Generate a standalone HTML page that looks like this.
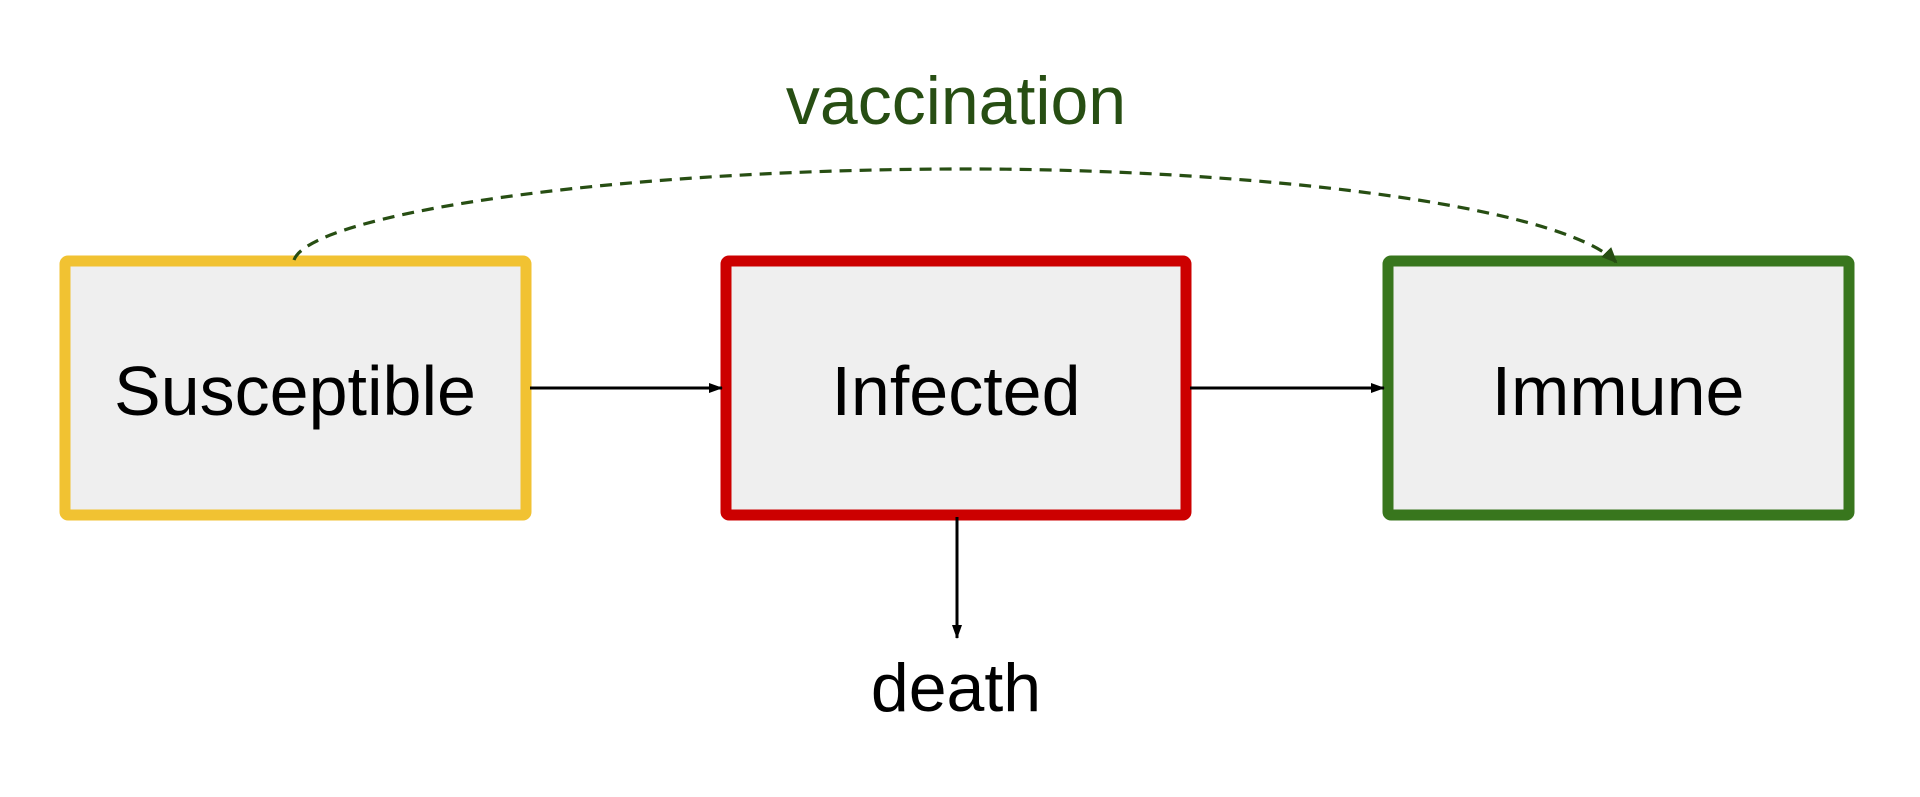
<!DOCTYPE html>
<html><head><meta charset="utf-8"><style>
html,body{margin:0;padding:0;background:#fff;}
svg{display:block;}
text{font-family:"Liberation Sans",Arial,sans-serif;}
</style></head><body>
<svg width="1920" height="797" viewBox="0 0 1920 797" xmlns="http://www.w3.org/2000/svg">
<defs>
<marker id="a" markerWidth="14" markerHeight="10" refX="13" refY="5" orient="auto" markerUnits="userSpaceOnUse"><path d="M0,0 L14,5 L0,10 z" fill="#000"/></marker>
<marker id="g" markerWidth="16" markerHeight="14" refX="14" refY="7" orient="auto" markerUnits="userSpaceOnUse"><path d="M0,0 L16,7 L0,14 z" fill="#274e13"/></marker>
</defs>
<rect x="65" y="261" width="461" height="254" rx="3" fill="#efefef" stroke="#f1c232" stroke-width="11"/>
<rect x="726" y="261" width="460" height="254" rx="3" fill="#efefef" stroke="#cc0000" stroke-width="11"/>
<rect x="1388" y="261" width="461" height="254" rx="3" fill="#efefef" stroke="#38761d" stroke-width="11"/>
<text x="295" y="415" font-size="70" text-anchor="middle" fill="#000">Susceptible</text>
<text x="956" y="415" font-size="70" text-anchor="middle" fill="#000">Infected</text>
<text x="1618" y="415" font-size="70" text-anchor="middle" fill="#000">Immune</text>
<text x="956" y="124" font-size="68" text-anchor="middle" fill="#274e13">vaccination</text>
<text x="956" y="711" font-size="68" text-anchor="middle" fill="#000">death</text>
<line x1="530" y1="388" x2="722" y2="388" stroke="#000" stroke-width="3" marker-end="url(#a)"/>
<line x1="1190" y1="388" x2="1384" y2="388" stroke="#000" stroke-width="3" marker-end="url(#a)"/>
<line x1="957" y1="517" x2="957" y2="638" stroke="#000" stroke-width="3" marker-end="url(#a)"/>
<path d="M294,260 C310,215 600,170 955,169 C1250,168 1560,205 1616,262" fill="none" stroke="#274e13" stroke-width="3.2" stroke-dasharray="12,8" marker-end="url(#g)"/>
</svg>
</body></html>
